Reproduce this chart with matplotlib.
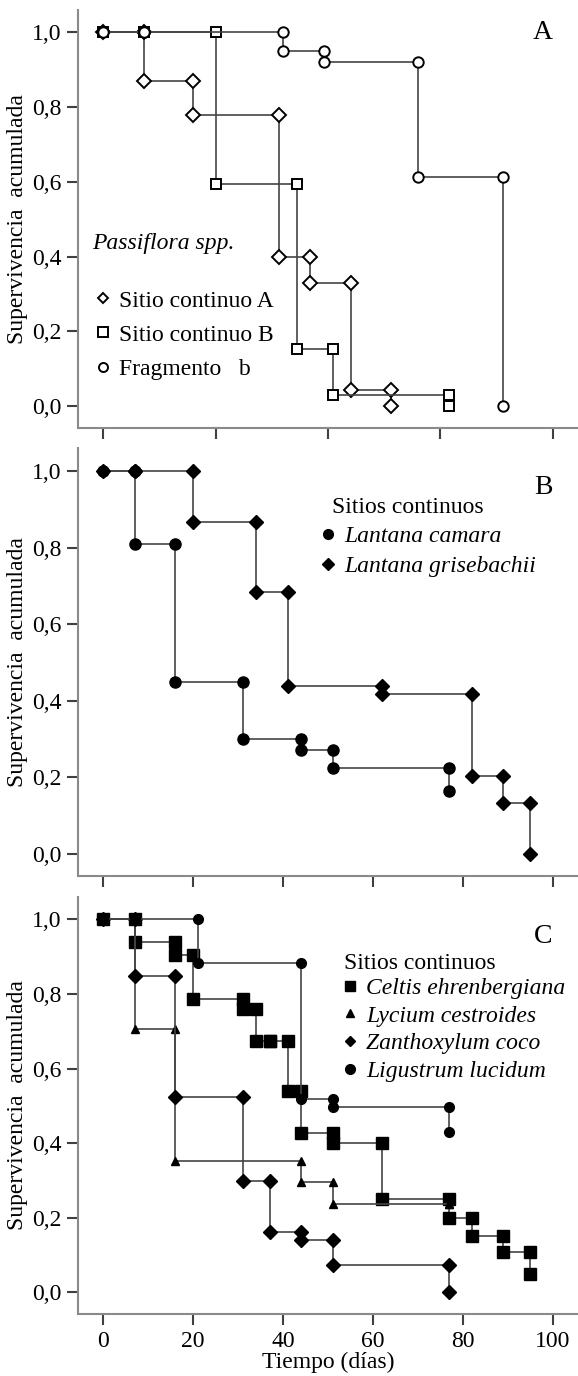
import matplotlib
matplotlib.use("Agg")
import matplotlib.pyplot as plt
from matplotlib.lines import Line2D
from matplotlib.ticker import FuncFormatter

plt.rcParams['font.family'] = ['Liberation Serif', 'DejaVu Serif']

# ---- datos (tiempo en dias, supervivencia acumulada) ----
# Panel A: Passiflora spp.
sitioA_t = [0, 9, 20, 39, 46, 55, 64]
sitioA_s = [1.0, 0.87, 0.78, 0.40, 0.33, 0.043, 0.0]
sitioB_t = [0, 9, 25, 43, 51, 77]
sitioB_s = [1.0, 1.0, 0.593, 0.152, 0.03, 0.0]
frag_t = [0, 9, 40, 49, 70, 89]
frag_s = [1.0, 1.0, 0.95, 0.92, 0.613, 0.0]

# Panel B: Lantana
camara_t = [0, 7, 16, 31, 44, 51, 77]
camara_s = [1.0, 0.81, 0.448, 0.30, 0.27, 0.225, 0.164]
grise_t = [0, 7, 20, 34, 41, 62, 82, 89, 95]
grise_s = [1.0, 1.0, 0.866, 0.683, 0.439, 0.417, 0.204, 0.132, 0.0]

# Panel C
celtis_t = [0, 7, 16, 20, 31, 34, 37, 41, 44, 51, 62, 77, 82, 89, 95]
celtis_s = [1.0, 0.939, 0.905, 0.787, 0.761, 0.675, 0.675, 0.541, 0.426,
            0.40, 0.249, 0.20, 0.15, 0.109, 0.049]
lycium_t = [0, 7, 16, 44, 51, 77]
lycium_s = [1.0, 0.706, 0.353, 0.296, 0.236, 0.236]
zanth_t = [0, 7, 16, 31, 37, 44, 51, 77]
zanth_s = [1.0, 0.847, 0.523, 0.298, 0.162, 0.140, 0.073, 0.0]
ligus_t = [0, 7, 21, 44, 51, 77]
ligus_s = [1.0, 1.0, 0.883, 0.518, 0.498, 0.431]

yticks = [0.0, 0.2, 0.4, 0.6, 0.8, 1.0]
FS = 17
LINE = '#444444'


def km(times, surv):
    # escalera tipo Kaplan-Meier: cada evento tiene un punto antes y despues
    xs = [times[0]]
    ys = [surv[0]]
    for t, prev, cur in zip(times[1:], surv[:-1], surv[1:]):
        xs += [t, t]
        ys += [prev, cur]
    return xs, ys


def draw(ax, t, s, **kw):
    xs, ys = km(t, s)
    ax.plot(xs, ys, color=LINE, lw=1.2, markeredgecolor='black', **kw)


def style(ax, xticks, labels=False):
    ax.set_xlim(-5.56, 105.6)
    ax.set_ylim(-0.058, 1.06)
    for side in ['top', 'right']:
        ax.spines[side].set_visible(False)
    for side in ['left', 'bottom']:
        ax.spines[side].set_color('#8a8a8a')
        ax.spines[side].set_linewidth(1.5)
    ax.set_yticks(yticks)
    ax.yaxis.set_major_formatter(FuncFormatter(lambda v, p: f"{v:.1f}".replace('.', ',')))
    ax.set_xticks(xticks)
    if not labels:
        ax.set_xticklabels([])
    ax.tick_params(direction='out', length=8, width=1.5, color='#404040',
                   labelsize=FS, pad=4)
    ax.set_ylabel('Supervivencia  acumulada', fontsize=FS)
    ax.yaxis.set_label_coords(-0.10, 0.5)


fig = plt.figure(figsize=(5.78, 13.76), dpi=100)
axA = fig.add_axes([0.1355, 0.6892, 0.8645, 0.3036])
axB = fig.add_axes([0.1355, 0.3634, 0.8645, 0.3110])
axC = fig.add_axes([0.1355, 0.0451, 0.8645, 0.3030])

# ---- Panel A ----
openkw = dict(markerfacecolor='white', markeredgewidth=1.4)
draw(axA, sitioA_t, sitioA_s, marker='D', markersize=6.8, **openkw)
draw(axA, sitioB_t, sitioB_s, marker='s', markersize=7.5, **openkw)
draw(axA, frag_t, frag_s, marker='o', markersize=7.5, **openkw)
style(axA, [0, 25, 50, 75, 100])
axA.text(100, 1.0, 'A', fontsize=20, ha='right', va='center')
axA.text(-2.5, 0.436, 'Passiflora spp.', fontsize=FS, style='italic', va='center')
hA = [Line2D([], [], ls='none', marker='D', markersize=5.5, mec='black', mfc='white', mew=1.4),
      Line2D([], [], ls='none', marker='s', markersize=7, mec='black', mfc='white', mew=1.4),
      Line2D([], [], ls='none', marker='o', markersize=6.5, mec='black', mfc='white', mew=1.4)]
axA.legend(hA, ['Sitio continuo A', 'Sitio continuo B', 'Fragmento   b'],
           loc='center left', bbox_to_anchor=(-2.1, 0.19), bbox_transform=axA.transData,
           frameon=False, fontsize=FS, handlelength=0.8, handletextpad=0.28,
           borderpad=0, borderaxespad=0, labelspacing=0.53)

# ---- Panel B ----
fillkw = dict(markerfacecolor='black', markeredgewidth=1.0)
draw(axB, camara_t, camara_s, marker='o', markersize=8, **fillkw)
draw(axB, grise_t, grise_s, marker='D', markersize=7, **fillkw)
style(axB, [0, 20, 40, 60, 80, 100])
axB.text(100, 0.957, 'B', fontsize=20, ha='right', va='center')
axB.text(50.8, 0.905, 'Sitios continuos', fontsize=FS, va='center')
hB = [Line2D([], [], ls='none', marker='o', markersize=7, mec='black', mfc='black'),
      Line2D([], [], ls='none', marker='D', markersize=6, mec='black', mfc='black')]
legB = axB.legend(hB, ['Lantana camara', 'Lantana grisebachii'],
                  loc='center left', bbox_to_anchor=(47.9, 0.79), bbox_transform=axB.transData,
                  frameon=False, fontsize=FS, handlelength=0.8, handletextpad=0.28,
                  borderpad=0, borderaxespad=0, labelspacing=0.35)
for t in legB.get_texts():
    t.set_style('italic')

# ---- Panel C ----
draw(axC, celtis_t, celtis_s, marker='s', markersize=8, **fillkw)
draw(axC, lycium_t, lycium_s, marker='^', markersize=6, **fillkw)
draw(axC, zanth_t, zanth_s, marker='D', markersize=7.2, **fillkw)
draw(axC, ligus_t, ligus_s, marker='o', markersize=7, **fillkw)
style(axC, [0, 20, 40, 60, 80, 100], labels=True)
axC.set_xlabel('Tiempo (días)', fontsize=FS, labelpad=0)
axC.text(100, 0.953, 'C', fontsize=20, ha='right', va='center')
axC.text(53.6, 0.882, 'Sitios continuos', fontsize=FS, va='center')
hC = [Line2D([], [], ls='none', marker='s', markersize=7, mec='black', mfc='black'),
      Line2D([], [], ls='none', marker='^', markersize=6, mec='black', mfc='black'),
      Line2D([], [], ls='none', marker='D', markersize=5.5, mec='black', mfc='black'),
      Line2D([], [], ls='none', marker='o', markersize=7, mec='black', mfc='black')]
legC = axC.legend(hC, ['Celtis ehrenbergiana', 'Lycium cestroides', 'Zanthoxylum coco',
                       'Ligustrum lucidum'],
                  loc='center left', bbox_to_anchor=(52.8, 0.704), bbox_transform=axC.transData,
                  frameon=False, fontsize=FS, handlelength=0.8, handletextpad=0.28,
                  borderpad=0, borderaxespad=0, labelspacing=0.26)
for t in legC.get_texts():
    t.set_style('italic')

fig.savefig('out.png', dpi=100)
